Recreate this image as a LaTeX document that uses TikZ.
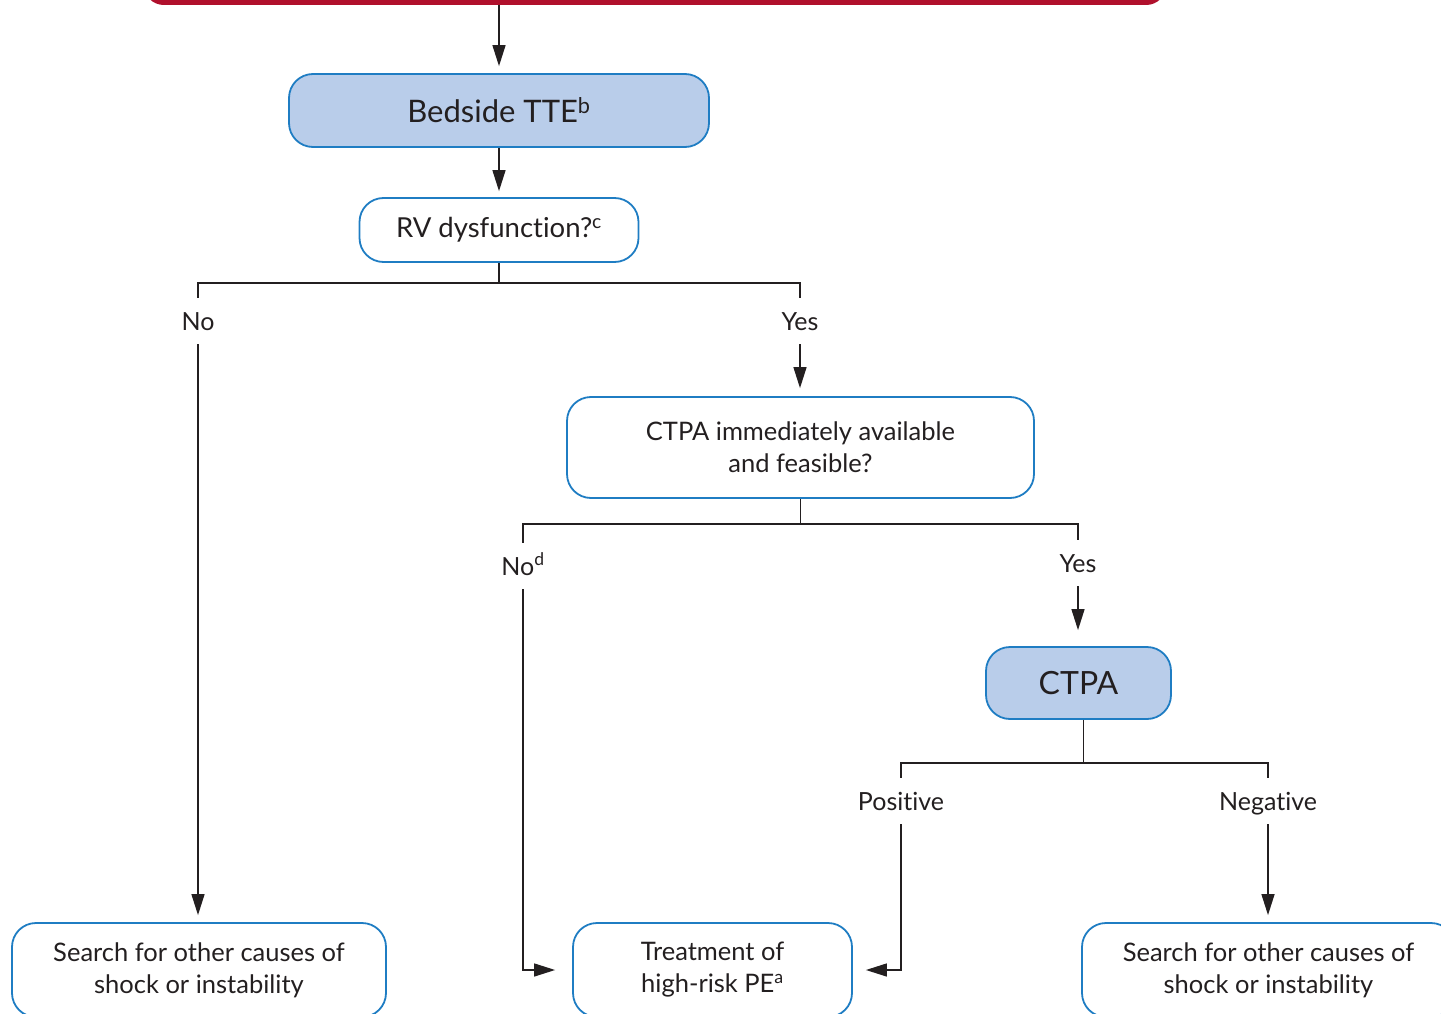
\documentclass[tikz,border=0pt]{standalone}
\usepackage{fontspec}
\setmainfont{Lato}[Ligatures=NoCommon]
\usetikzlibrary{arrows.meta}
\definecolor{boxblue}{HTML}{1F7DC3}
\definecolor{boxfill}{HTML}{B9CDEA}
\definecolor{redc}{HTML}{B0102C}
\definecolor{txt}{HTML}{231F20}
\definecolor{linec}{HTML}{231F20}
\tikzset{
  flowbox/.style={draw=boxblue, line width=1.8pt, rounded corners=24pt, align=center,
    inner sep=0pt, text=txt, font=\fontsize{25.5}{32}\selectfont},
  filledbox/.style={flowbox, fill=boxfill, font=\fontsize{31}{34}\selectfont},
  lbl/.style={inner xsep=0pt, inner ysep=11pt, text height=21pt, text depth=3pt,
    text=txt, font=\fontsize{25}{28}\selectfont},
  arr/.style={-{Triangle[length=21pt,width=13pt]}, line width=1.4pt, draw=linec},
  ln/.style={line width=1.4pt, draw=linec}
}
\begin{document}
\begin{tikzpicture}[x=1pt,y=-1pt]
\clip (0,0) rectangle (1441,1014);
\node[draw=redc, line width=5pt, rounded corners=18pt, minimum width=1018pt, minimum height=100pt, inner sep=0pt] (top) at (655,-47.5) {};
\node[filledbox, minimum width=420pt, minimum height=73pt] (bed) at (499,110.5) {Bedside TTE\textsuperscript{b}};
\node[flowbox, minimum width=279pt, minimum height=64pt, font=\fontsize{27.5}{32}\selectfont] (rv) at (499,230) {RV dysfunction?\textsuperscript{c}};
\node[lbl] (no1) at (198,321) {No};
\node[lbl] (yes1) at (800,321) {Yes};
\node[flowbox, minimum width=467pt, minimum height=101pt] (avail) at (800.5,447.5) {CTPA immediately available\\and feasible?};
\node[lbl] (no2) at (523,566) {No\textsuperscript{d}};
\node[lbl] (yes2) at (1078,563) {Yes};
\node[filledbox, minimum width=185pt, minimum height=72pt, font=\fontsize{32}{34}\selectfont] (ctpa) at (1078.5,683) {CTPA};
\node[lbl] (pos) at (901,801) {Positive};
\node[lbl] (neg) at (1268,801) {Negative};
\node[flowbox, minimum width=374pt, minimum height=94pt] (bl) at (199,970) {Search for other causes of\\shock or instability};
\node[flowbox, minimum width=279pt, minimum height=94pt] (bm) at (712.5,970) {Treatment of\\high-risk PE\textsuperscript{a}};
\node[flowbox, minimum width=373pt, minimum height=94pt] (br) at (1268.5,970) {Search for other causes of\\shock or instability};
% connectors
\draw[arr, shorten >=7pt] (top.south -| bed.north) -- (bed.north);
\draw[arr, shorten >=6pt] (bed.south) -- (rv.north);
\draw[ln] (rv.south) -- ++(0,20) coordinate (j1);
\draw[ln] (no1.north) |- (j1) -| (yes1.north);
\draw[arr, shorten >=7pt] (no1.south) -- (no1.south |- bl.north);
\draw[arr, shorten >=8pt] (yes1.south) -- (yes1.south |- avail.north);
\draw[ln] (avail.south) -- ++(0,25) coordinate (j2);
\draw[ln] (no2.north) |- (j2) -| (yes2.north);
\draw[arr, shorten >=17pt] (no2.south) |- (bm.west);
\draw[arr, shorten >=16pt] (yes2.south) -- (yes2.south |- ctpa.north);
\draw[ln] (ctpa.south) ++(5,0) coordinate (c3) -- ++(0,43) coordinate (j3);
\draw[ln] (pos.north) |- (j3) -| (neg.north);
\draw[arr, shorten >=13pt] (pos.south) |- (bm.east);
\draw[arr, shorten >=7pt] (neg.south) -- (neg.south |- br.north);
\end{tikzpicture}
\end{document}
